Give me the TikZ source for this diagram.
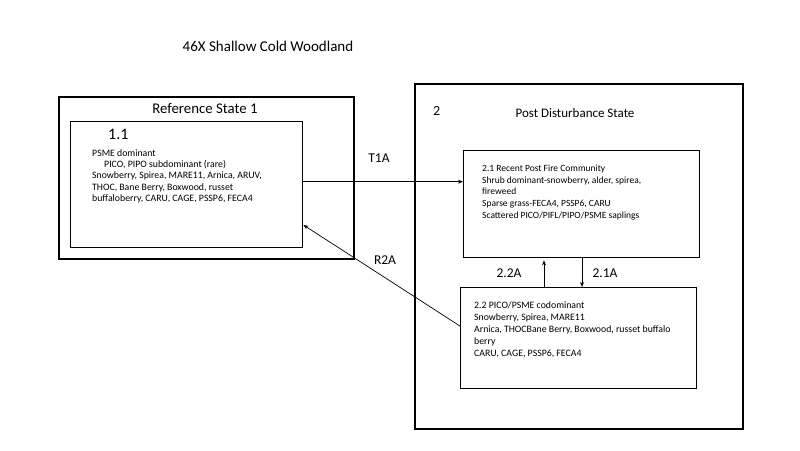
\documentclass[tikz,border=0pt]{standalone}
\usepackage{fontspec}
\setmainfont{Carlito}
\usetikzlibrary{arrows.meta}
\begin{document}
\begin{tikzpicture}[x=1pt,y=-1pt,
  outerbox/.style={draw, line width=1.8pt, anchor=north west, inner sep=0pt},
  innerbox/.style={draw, line width=1.4pt, anchor=north west, inner sep=0pt},
  body/.style={anchor=north west, align=left, inner sep=0pt, font=\fontsize{9.5}{11.6}\selectfont},
  head/.style={inner sep=0pt, font=\fontsize{13}{15}\selectfont},
  lab/.style={inner sep=0pt, font=\fontsize{13.5}{15}\selectfont},
  arr/.style={-{Stealth[length=5pt,width=4pt]}, line width=0.7pt}]
\useasboundingbox (0,0) rectangle (800,450);
\node[head, font=\fontsize{15}{17}\selectfont] (title) at (268,46) {46X Shallow Cold Woodland};
% State 1
\node[outerbox, minimum width=295pt, minimum height=162pt] (s1) at (58,96) {};
\node[head, font=\fontsize{14.8}{17}\selectfont] (s1t) at (205,108) {Reference State 1};
\node[innerbox, minimum width=232pt, minimum height=126pt] (b11) at (70,121) {};
\node[head, anchor=west, font=\fontsize{16}{18}\selectfont] (b11n) at (108,134) {1.1};
\node[body, font=\fontsize{9.8}{11.4}\selectfont] (b11t) at (92,149) {PSME dominant\\
\hspace*{12pt}PICO, PIPO subdominant (rare)\\
Snowberry, Spirea, MARE11, Arnica, ARUV,\\
THOC, Bane Berry, Boxwood, russet\\
buffaloberry, CARU, CAGE, PSSP6, FECA4};
% State 2
\node[outerbox, minimum width=328pt, minimum height=345pt] (s2) at (414,83) {};
\node[head, anchor=west, font=\fontsize{14}{16}\selectfont] (s2n) at (433,111) {2};
\node[head] (s2t) at (575,113) {Post Disturbance State};
\node[innerbox, minimum width=236pt, minimum height=107pt] (b21) at (463,150) {};
\node[body] (b21t) at (482,165) {2.1 Recent Post Fire Community\\
Shrub dominant-snowberry, alder, spirea,\\
fireweed\\
Sparse grass-FECA4, PSSP6, CARU\\
Scattered PICO/PIFL/PIPO/PSME saplings};
\node[innerbox, line width=1.1pt, minimum width=236pt, minimum height=101pt] (b22) at (460,287) {};
\node[body, font=\fontsize{9.8}{12}\selectfont] (b22t) at (474,301) {2.2 PICO/PSME codominant\\
Snowberry, Spirea, MARE11\\
Arnica, THOCBane Berry, Boxwood, russet buffalo\\
berry\\
CARU, CAGE, PSSP6, FECA4};
% transitions
\coordinate (t1s) at ([yshift=3pt]b11.east);
\draw[arr] (t1s) -- (t1s -| b21.west);
\node[lab] (t1a) at (379,158) {T1A};
\coordinate (r2s) at ([yshift=12pt]b22.west);
\coordinate (r2e) at ([yshift=-104pt]b11.north east);
\draw[arr] (r2s) -- (r2e);
\node[lab] (r2a) at (385,260) {R2A};
\coordinate (a21) at (582,0);
\draw[arr] (a21 |- b21.south) -- (a21 |- b22.north);
\node[lab] (l21) at (605,273) {2.1A};
\coordinate (a22) at (544,0);
\draw[arr] (a22 |- b22.north) -- ([yshift=-2pt]a22 |- b21.south);
\node[lab] (l22) at (509,273) {2.2A};
\end{tikzpicture}
\end{document}
